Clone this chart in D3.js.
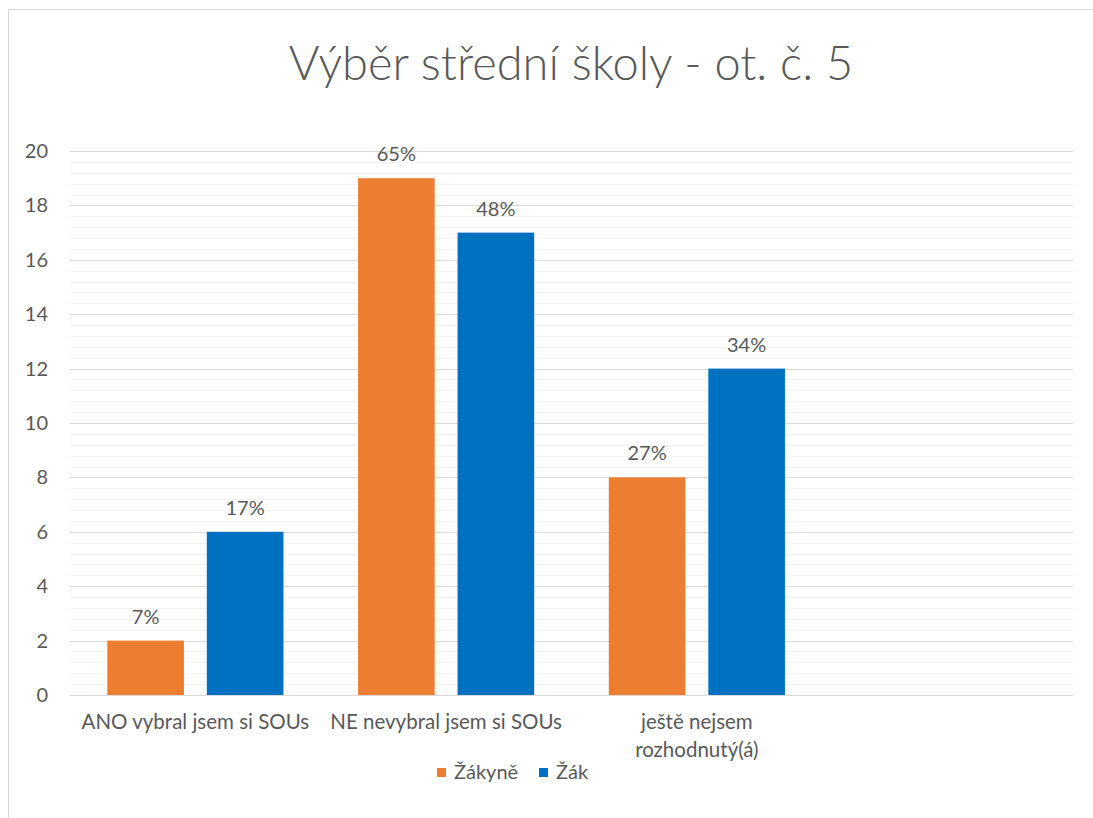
<!DOCTYPE html>
<html>
<head>
<meta charset="utf-8">
<script src="https://cdn.jsdelivr.net/npm/d3@7"></script>
<style>
  body { margin: 0; background: #fff; }
  text { font-family: Lato, "Open Sans", sans-serif; fill: #595959; }
</style>
</head>
<body>
<div id="chart"></div>
<script>
const categories = ["ANO vybral jsem si SOUs", "NE nevybral jsem si SOUs", "ještě nejsem rozhodnutý(á)", ""];
const series = ["Žákyně", "Žák"];
const valuesZakyne = [2, 19, 8, null];
const valuesZak = [6, 17, 12, null];
const labelsZakyne = ["7%", "65%", "27%", ""];
const labelsZak = ["17%", "48%", "34%", ""];
const yTicks = [0, 2, 4, 6, 8, 10, 12, 14, 16, 18, 20];
const colors = ["#ED7D31", "#0070C0"];

const width = 1093, height = 818;

const svg = d3.select("#chart").append("svg")
    .attr("width", width)
    .attr("height", height);

// outer frame
svg.append("rect")
    .attr("x", 8.5).attr("y", 9.5)
    .attr("width", width + 10).attr("height", height + 10)
    .attr("fill", "none")
    .attr("stroke", "#d9d9d9");

svg.append("text")
    .attr("x", 571).attr("y", 80)
    .attr("text-anchor", "middle")
    .style("font-size", "47px")
    .style("font-weight", 300)
    .text("Výběr střední školy - ot. č. 5");

const x0 = d3.scaleBand()
    .domain(d3.range(categories.length))
    .range([70, 1073]);

const x1 = d3.scaleBand()
    .domain(series)
    .range([0, x0.bandwidth()])
    .paddingInner(0.23)
    .paddingOuter(0.375);

const y = d3.scaleLinear()
    .domain([0, 20])
    .range([695, 151]);

// minor gridlines
const minor = d3.range(0, 20.001, 0.4).filter(v => Math.abs(v / 2 - Math.round(v / 2)) > 1e-6);
svg.append("g").selectAll("line")
    .data(minor)
    .join("line")
    .attr("x1", 70).attr("x2", 1073)
    .attr("y1", d => Math.round(y(d)) + 0.5)
    .attr("y2", d => Math.round(y(d)) + 0.5)
    .attr("stroke", "#f2f2f2");

// major gridlines
svg.append("g").selectAll("line")
    .data(yTicks)
    .join("line")
    .attr("x1", 70).attr("x2", 1073)
    .attr("y1", d => Math.round(y(d)) + 0.5)
    .attr("y2", d => Math.round(y(d)) + 0.5)
    .attr("stroke", "#d9d9d9");

// y axis labels
const yAxis = svg.append("g")
    .attr("transform", "translate(48,0)")
    .call(d3.axisLeft(y).tickValues(yTicks).tickSize(0).tickPadding(0));
yAxis.select(".domain").remove();
yAxis.selectAll("text")
    .attr("fill", "#595959")
    .style("font-size", "20px")
    .style("font-family", "Lato, 'Open Sans', sans-serif");

const rows = categories.map((c, i) => ({
    i,
    bars: [
        { s: series[0], v: valuesZakyne[i], label: labelsZakyne[i] },
        { s: series[1], v: valuesZak[i], label: labelsZak[i] }
    ]
}));

const groups = svg.append("g").selectAll("g")
    .data(rows)
    .join("g")
    .attr("transform", d => `translate(${x0(d.i)},0)`);

groups.selectAll("rect")
    .data(d => d.bars.filter(b => b.v != null))
    .join("rect")
    .attr("x", d => x1(d.s))
    .attr("width", x1.bandwidth())
    .attr("y", d => y(d.v))
    .attr("height", d => y(0) - y(d.v))
    .attr("fill", d => colors[series.indexOf(d.s)]);

groups.selectAll("text")
    .data(d => d.bars.filter(b => b.v != null))
    .join("text")
    .attr("x", d => x1(d.s) + x1.bandwidth() / 2)
    .attr("y", d => y(d.v) - 17)
    .attr("text-anchor", "middle")
    .style("font-size", "20px")
    .text(d => d.label);

// category labels
const wrapLabels = [["ANO vybral jsem si SOUs"], ["NE nevybral jsem si SOUs"], ["ještě nejsem", "rozhodnutý(á)"], []];
svg.append("g").selectAll("text")
    .data(categories)
    .join("text")
    .attr("x", (d, i) => x0(i) + x0.bandwidth() / 2)
    .attr("y", 729)
    .attr("text-anchor", "middle")
    .style("font-size", "20.5px")
    .each(function (d, i) {
        d3.select(this).selectAll("tspan")
            .data(wrapLabels[i])
            .join("tspan")
            .attr("x", x0(i) + x0.bandwidth() / 2)
            .attr("dy", (t, j) => j === 0 ? 0 : 28)
            .text(t => t);
    });

// legend
const legendX = [437, 539];
const legend = svg.append("g").selectAll("g")
    .data(series)
    .join("g")
    .attr("transform", (d, i) => `translate(${legendX[i]},768)`);
legend.append("rect")
    .attr("width", 9).attr("height", 9)
    .attr("fill", (d, i) => colors[i]);
legend.append("text")
    .attr("x", 17).attr("y", 11)
    .style("font-size", "20px")
    .text(d => d);
</script>
</body>
</html>
